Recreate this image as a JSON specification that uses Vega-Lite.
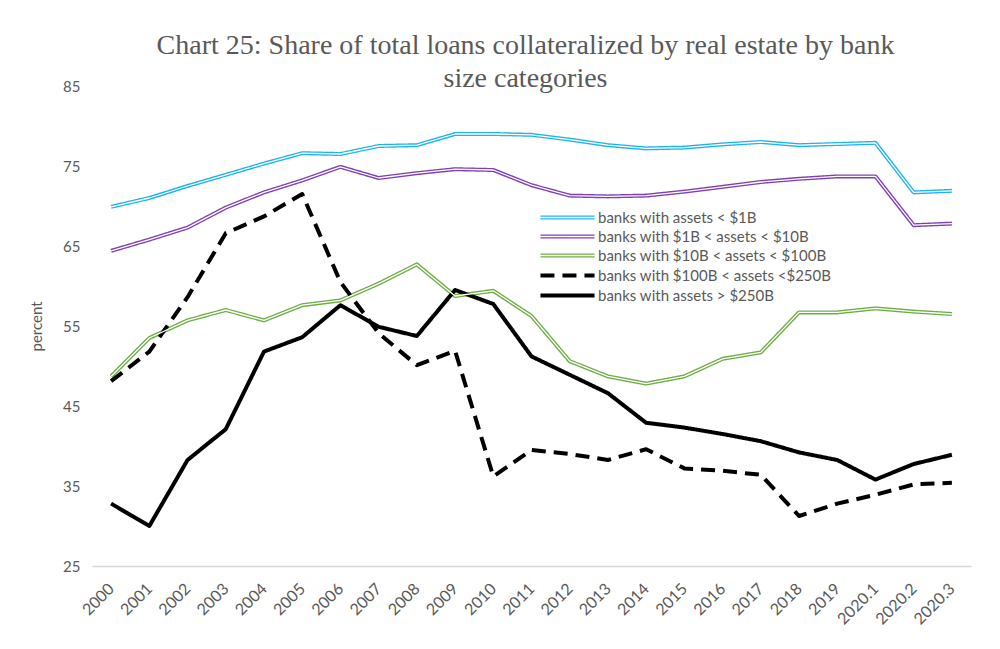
{
  "$schema": "https://vega.github.io/schema/vega-lite/v6.json",
  "width": 879,
  "height": 480,
  "autosize": "none",
  "padding": {"left": 92, "top": 86, "right": 29, "bottom": 83},
  "background": "white",
  "config": {"view": {"stroke": null}, "font": "Lato"},
  "title": {
    "text": ["Chart 25: Share of total loans collateralized by real estate by bank", "size categories"],
    "font": "Liberation Serif",
    "fontSize": 28,
    "fontWeight": "normal",
    "color": "#595959",
    "anchor": "middle",
    "frame": "group",
    "lineHeight": 33,
    "offset": -14,
    "dx": -6
  },
  "data": {
    "values": [
      {"year": "2000", "banks with assets < $1B": 69.9, "banks with $1B < assets < $10B": 64.4, "banks with $10B < assets < $100B": 48.7, "banks with $100B < assets <$250B": 48.1, "banks with assets > $250B": 32.8},
      {"year": "2001", "banks with assets < $1B": 71.0, "banks with $1B < assets < $10B": 65.8, "banks with $10B < assets < $100B": 53.5, "banks with $100B < assets <$250B": 51.8, "banks with assets > $250B": 30.0},
      {"year": "2002", "banks with assets < $1B": 72.5, "banks with $1B < assets < $10B": 67.3, "banks with $10B < assets < $100B": 55.7, "banks with $100B < assets <$250B": 58.6, "banks with assets > $250B": 38.25},
      {"year": "2003", "banks with assets < $1B": 73.9, "banks with $1B < assets < $10B": 69.8, "banks with $10B < assets < $100B": 57.0, "banks with $100B < assets <$250B": 66.6, "banks with assets > $250B": 42.1},
      {"year": "2004", "banks with assets < $1B": 75.3, "banks with $1B < assets < $10B": 71.7, "banks with $10B < assets < $100B": 55.7, "banks with $100B < assets <$250B": 68.7, "banks with assets > $250B": 51.8},
      {"year": "2005", "banks with assets < $1B": 76.6, "banks with $1B < assets < $10B": 73.2, "banks with $10B < assets < $100B": 57.6, "banks with $100B < assets <$250B": 71.5, "banks with assets > $250B": 53.6},
      {"year": "2006", "banks with assets < $1B": 76.5, "banks with $1B < assets < $10B": 74.9, "banks with $10B < assets < $100B": 58.2, "banks with $100B < assets <$250B": 60.5, "banks with assets > $250B": 57.6},
      {"year": "2007", "banks with assets < $1B": 77.5, "banks with $1B < assets < $10B": 73.5, "banks with $10B < assets < $100B": 60.3, "banks with $100B < assets <$250B": 54.1, "banks with assets > $250B": 54.9},
      {"year": "2008", "banks with assets < $1B": 77.6, "banks with $1B < assets < $10B": 74.1, "banks with $10B < assets < $100B": 62.7, "banks with $100B < assets <$250B": 50.1, "banks with assets > $250B": 53.75},
      {"year": "2009", "banks with assets < $1B": 79.0, "banks with $1B < assets < $10B": 74.6, "banks with $10B < assets < $100B": 58.75, "banks with $100B < assets <$250B": 51.9, "banks with assets > $250B": 59.5},
      {"year": "2010", "banks with assets < $1B": 79.0, "banks with $1B < assets < $10B": 74.5, "banks with $10B < assets < $100B": 59.4, "banks with $100B < assets <$250B": 36.2, "banks with assets > $250B": 57.75},
      {"year": "2011", "banks with assets < $1B": 78.9, "banks with $1B < assets < $10B": 72.6, "banks with $10B < assets < $100B": 56.25, "banks with $100B < assets <$250B": 39.5, "banks with assets > $250B": 51.2},
      {"year": "2012", "banks with assets < $1B": 78.3, "banks with $1B < assets < $10B": 71.3, "banks with $10B < assets < $100B": 50.6, "banks with $100B < assets <$250B": 39.0, "banks with assets > $250B": 48.9},
      {"year": "2013", "banks with assets < $1B": 77.6, "banks with $1B < assets < $10B": 71.2, "banks with $10B < assets < $100B": 48.7, "banks with $100B < assets <$250B": 38.25, "banks with assets > $250B": 46.6},
      {"year": "2014", "banks with assets < $1B": 77.2, "banks with $1B < assets < $10B": 71.3, "banks with $10B < assets < $100B": 47.8, "banks with $100B < assets <$250B": 39.6, "banks with assets > $250B": 42.9},
      {"year": "2015", "banks with assets < $1B": 77.3, "banks with $1B < assets < $10B": 71.8, "banks with $10B < assets < $100B": 48.7, "banks with $100B < assets <$250B": 37.2, "banks with assets > $250B": 42.3},
      {"year": "2016", "banks with assets < $1B": 77.7, "banks with $1B < assets < $10B": 72.4, "banks with $10B < assets < $100B": 50.9, "banks with $100B < assets <$250B": 36.9, "banks with assets > $250B": 41.5},
      {"year": "2017", "banks with assets < $1B": 78.0, "banks with $1B < assets < $10B": 73.0, "banks with $10B < assets < $100B": 51.7, "banks with $100B < assets <$250B": 36.4, "banks with assets > $250B": 40.6},
      {"year": "2018", "banks with assets < $1B": 77.6, "banks with $1B < assets < $10B": 73.4, "banks with $10B < assets < $100B": 56.7, "banks with $100B < assets <$250B": 31.25, "banks with assets > $250B": 39.2},
      {"year": "2019", "banks with assets < $1B": 77.75, "banks with $1B < assets < $10B": 73.7, "banks with $10B < assets < $100B": 56.7, "banks with $100B < assets <$250B": 32.8, "banks with assets > $250B": 38.25},
      {"year": "2020.1", "banks with assets < $1B": 77.9, "banks with $1B < assets < $10B": 73.7, "banks with $10B < assets < $100B": 57.2, "banks with $100B < assets <$250B": 33.9, "banks with assets > $250B": 35.8},
      {"year": "2020.2", "banks with assets < $1B": 71.7, "banks with $1B < assets < $10B": 67.6, "banks with $10B < assets < $100B": 56.8, "banks with $100B < assets <$250B": 35.2, "banks with assets > $250B": 37.75},
      {"year": "2020.3", "banks with assets < $1B": 71.9, "banks with $1B < assets < $10B": 67.8, "banks with $10B < assets < $100B": 56.5, "banks with $100B < assets <$250B": 35.4, "banks with assets > $250B": 38.9}
    ]
  },
  "transform": [
    {"fold": ["banks with assets < $1B", "banks with $1B < assets < $10B", "banks with $10B < assets < $100B", "banks with $100B < assets <$250B", "banks with assets > $250B"], "as": ["series", "value"]}
  ],
  "encoding": {
    "x": {
      "field": "year", "type": "ordinal", "sort": null,
      "scale": {"type": "point", "padding": 0.5},
      "axis": {"title": null, "labelAngle": -45, "labelAlign": "right", "labelBaseline": "middle", "labelPadding": 20, "ticks": false, "domainColor": "#d9d9d9", "domainWidth": 1.5, "labelFontSize": 16, "labelColor": "#595959", "grid": false}
    },
    "y": {
      "field": "value", "type": "quantitative",
      "scale": {"domain": [25, 85], "zero": false, "nice": false},
      "axis": {"title": "percent", "values": [25, 35, 45, 55, 65, 75, 85], "grid": false, "domain": false, "ticks": false, "labelFontSize": 15, "labelColor": "#595959", "labelPadding": 12, "titleColor": "#595959", "titleFontSize": 15, "titleFontWeight": "normal", "titlePadding": 18}
    }
  },
  "layer": [
    {
      "mark": {"type": "line", "strokeWidth": 4, "strokeJoin": "round"},
      "encoding": {
        "color": {
          "field": "series", "type": "nominal",
          "scale": {"domain": ["banks with assets < $1B", "banks with $1B < assets < $10B", "banks with $10B < assets < $100B", "banks with $100B < assets <$250B", "banks with assets > $250B"], "range": ["#1fb4ef", "#7f3fb5", "#70ad47", "#000000", "#000000"]},
          "legend": {
            "orient": "none", "legendX": 468, "legendY": 124, "title": null, "padding": 0, "symbolType": "M-5,0H5", "symbolSize": 117, "symbolStrokeWidth": 4, "labelFontSize": 15, "labelColor": "#595959", "labelOffset": 23, "labelLimit": 400, "rowPadding": 3,
            "encode": {"symbols": {"update": {
              "shape": {"signal": "indexof(['banks with assets < $1B', 'banks with $1B < assets < $10B', 'banks with $10B < assets < $100B'], datum.value) >= 0 ? 'M-5,-0.25H5M-5,0.25H5' : 'M-5,0H5'"},
              "strokeWidth": {"signal": "indexof(['banks with assets < $1B', 'banks with $1B < assets < $10B', 'banks with $10B < assets < $100B'], datum.value) >= 0 ? 1.3 : 4"}
            }}}
          }
        },
        "strokeDash": {
          "field": "series", "type": "nominal",
          "scale": {"domain": ["banks with assets < $1B", "banks with $1B < assets < $10B", "banks with $10B < assets < $100B", "banks with $100B < assets <$250B", "banks with assets > $250B"], "range": [[1, 0], [1, 0], [1, 0], [14, 8], [1, 0]]},
          "legend": {
            "orient": "none", "legendX": 468, "legendY": 124, "title": null, "padding": 0, "symbolType": "M-5,0H5", "symbolSize": 117, "symbolStrokeWidth": 4, "labelFontSize": 15, "labelColor": "#595959", "labelOffset": 23, "labelLimit": 400, "rowPadding": 3,
            "encode": {"symbols": {"update": {
              "shape": {"signal": "indexof(['banks with assets < $1B', 'banks with $1B < assets < $10B', 'banks with $10B < assets < $100B'], datum.value) >= 0 ? 'M-5,-0.25H5M-5,0.25H5' : 'M-5,0H5'"},
              "strokeWidth": {"signal": "indexof(['banks with assets < $1B', 'banks with $1B < assets < $10B', 'banks with $10B < assets < $100B'], datum.value) >= 0 ? 1.3 : 4"}
            }}}
          }
        }
      }
    },
    {
      "transform": [{"filter": {"field": "series", "oneOf": ["banks with assets < $1B", "banks with $1B < assets < $10B", "banks with $10B < assets < $100B"]}}],
      "mark": {"type": "line", "strokeWidth": 1.3, "strokeJoin": "round"},
      "encoding": {
        "stroke": {
          "field": "series", "type": "nominal",
          "scale": {"domain": ["banks with assets < $1B", "banks with $1B < assets < $10B", "banks with $10B < assets < $100B"], "range": ["#ffffff", "#ffffff", "#ffffff"]},
          "legend": null
        }
      }
    }
  ]
}
